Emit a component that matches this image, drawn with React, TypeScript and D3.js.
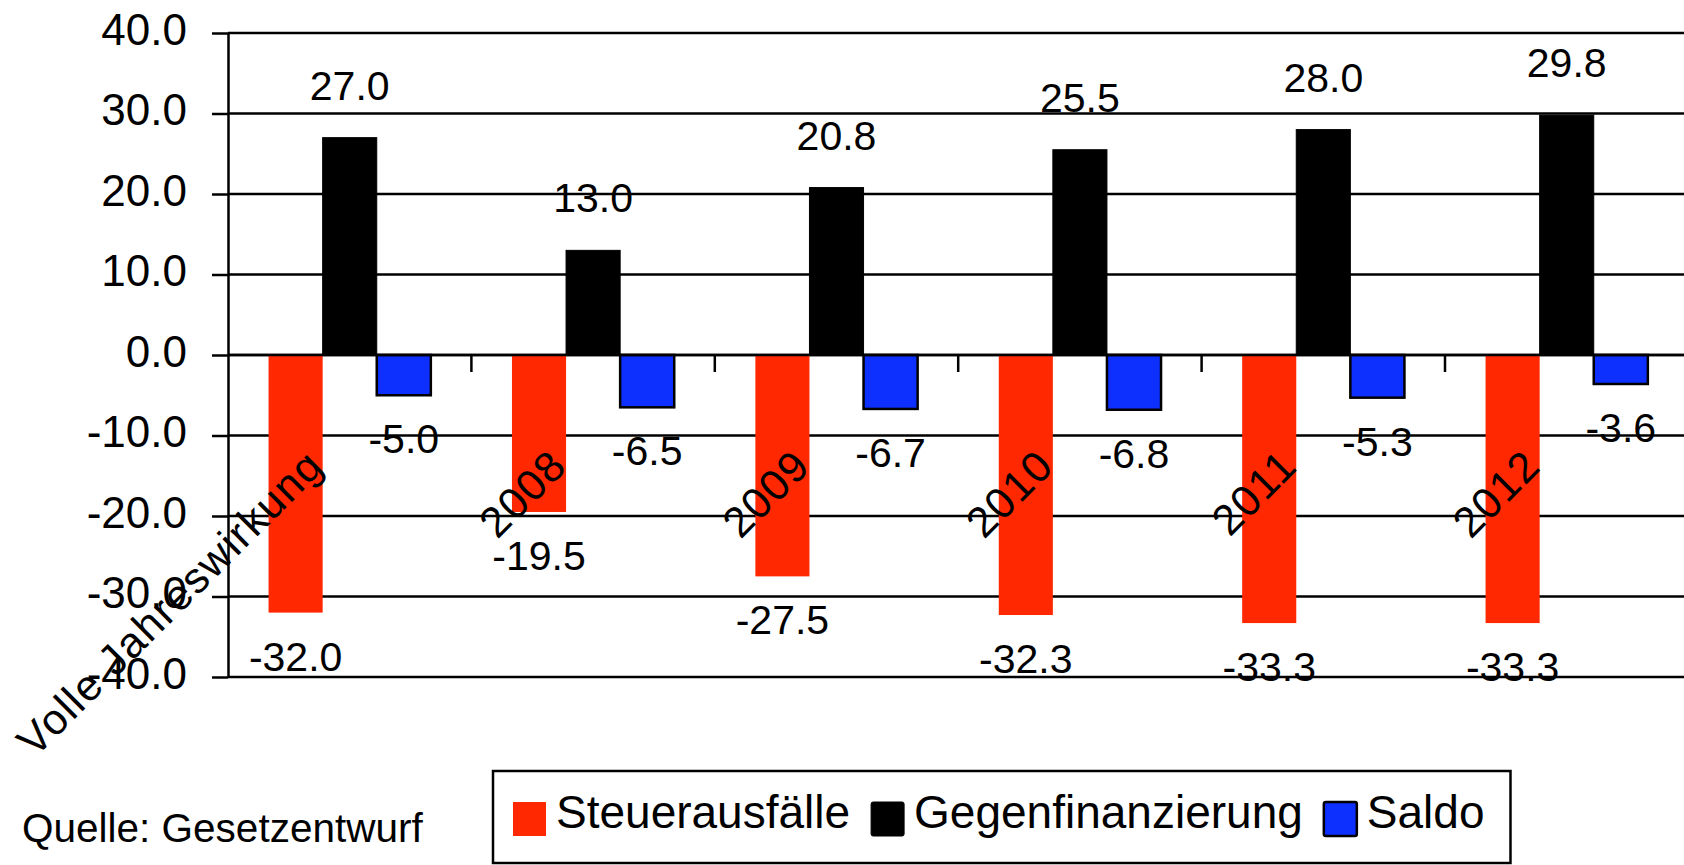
import React, { useEffect, useRef } from 'react';
import * as d3 from 'd3';

// Chart data
const categories = ['Volle Jahreswirkung', '2008', '2009', '2010', '2011', '2012'];
const seriesNames = ['Steuerausfälle', 'Gegenfinanzierung', 'Saldo'];
const steuerausfaelle = [-32.0, -19.5, -27.5, -32.3, -33.3, -33.3];
const gegenfinanzierung = [27.0, 13.0, 20.8, 25.5, 28.0, 29.8];
const saldo = [-5.0, -6.5, -6.7, -6.8, -5.3, -3.6];
const yTicks = [40, 30, 20, 10, 0, -10, -20, -30, -40];
const seriesColors = ['#FF2800', '#000000', '#0E30FF'];
const seriesStrokes = ['none', '#000000', '#000000'];
const sourceNote = 'Quelle: Gesetzentwurf';

const WIDTH = 1684;
const HEIGHT = 865;
const FONT = '"Liberation Sans", Arial, sans-serif';

const fmt = (v: number) => v.toFixed(1);

const App: React.FC = () => {
  const svgRef = useRef<SVGSVGElement>(null);

  useEffect(() => {
    if (!svgRef.current) return;
    const svg = d3.select(svgRef.current);
    svg.selectAll('*').remove();

    const plotLeft = 228;
    const bandWidth = 243.4;
    const seriesValues = [steuerausfaelle, gegenfinanzierung, saldo];

    const x = d3.scaleBand<string>()
      .domain(categories)
      .range([plotLeft, plotLeft + bandWidth * categories.length])
      .padding(0);

    const xs = d3.scaleBand<string>()
      .domain(seriesNames)
      .range([0, x.bandwidth()])
      .paddingInner(0)
      .paddingOuter(0.75);

    const y = d3.scaleLinear().domain([-40, 40]).range([677, 33]);

    // gridlines (behind bars)
    svg.append('g')
      .selectAll('line')
      .data(yTicks)
      .join('line')
      .attr('x1', plotLeft)
      .attr('x2', WIDTH)
      .attr('y1', d => y(d))
      .attr('y2', d => y(d))
      .attr('stroke', '#000')
      .attr('stroke-width', 2.5);

    // bars
    seriesNames.forEach((name, si) => {
      const g = svg.append('g');
      g.selectAll('rect')
        .data(seriesValues[si])
        .join('rect')
        .attr('x', (_, i) => (x(categories[i]) as number) + (xs(name) as number))
        .attr('y', d => y(Math.max(0, d)))
        .attr('width', xs.bandwidth())
        .attr('height', d => Math.abs(y(d) - y(0)))
        .attr('fill', seriesColors[si])
        .attr('stroke', seriesStrokes[si])
        .attr('stroke-width', si === 2 ? 2.5 : 1);
    });

    // zero line + category ticks
    svg.append('line')
      .attr('x1', plotLeft).attr('x2', WIDTH)
      .attr('y1', y(0)).attr('y2', y(0))
      .attr('stroke', '#000').attr('stroke-width', 2.5);

    svg.append('g')
      .selectAll('line')
      .data(categories.slice(1))
      .join('line')
      .attr('x1', d => x(d) as number)
      .attr('x2', d => x(d) as number)
      .attr('y1', y(0))
      .attr('y2', y(0) + 17)
      .attr('stroke', '#000')
      .attr('stroke-width', 2.5);

    // y axis
    const yAxis = d3.axisLeft(y)
      .tickValues(yTicks)
      .tickFormat(d => fmt(d as number))
      .tickSizeInner(16)
      .tickSizeOuter(0)
      .tickPadding(25);

    const axisG = svg.append('g')
      .attr('transform', `translate(${plotLeft},0)`)
      .call(yAxis);
    axisG.selectAll('path, line').attr('stroke', '#000').attr('stroke-width', 2.5);
    axisG.selectAll('text')
      .attr('fill', '#000')
      .attr('dy', '0.25em')
      .style('font-family', FONT)
      .style('font-size', '44px');

    // data labels
    seriesNames.forEach((name, si) => {
      svg.append('g')
        .selectAll('text')
        .data(seriesValues[si])
        .join('text')
        .attr('x', (_, i) => (x(categories[i]) as number) + (xs(name) as number) + xs.bandwidth() / 2)
        .attr('y', d => (d >= 0 ? y(d) - 38 : y(d) + 58))
        .attr('text-anchor', 'middle')
        .style('font-family', FONT)
        .style('font-size', '41px')
        .attr('fill', '#000')
        .text(d => fmt(d));
    });

    // category labels
    svg.append('g')
      .selectAll('text')
      .data(categories)
      .join('text')
      .attr('transform', d => `translate(${(x(d) as number) + x.bandwidth() / 2 - 24},468) rotate(-45)`)
      .attr('text-anchor', 'end')
      .style('font-family', FONT)
      .style('font-size', '43px')
      .style('letter-spacing', '1.5px')
      .attr('fill', '#000')
      .text(d => d);

    // source
    svg.append('text')
      .attr('x', 22)
      .attr('y', 842)
      .style('font-family', FONT)
      .style('font-size', '40.5px')
      .attr('fill', '#000')
      .text(sourceNote);

    // legend
    const legendG = svg.append('g');
    const legendBox = legendG.append('rect')
      .attr('y', 771)
      .attr('height', 92)
      .attr('fill', '#fff')
      .attr('stroke', '#000')
      .attr('stroke-width', 2.5);
    const legendLeft = 493;
    let cx = legendLeft + 20;
    seriesNames.forEach((name, si) => {
      legendG.append('rect')
        .attr('x', cx)
        .attr('y', 802)
        .attr('width', 33)
        .attr('height', 34)
        .attr('rx', si === 0 ? 0 : 2)
        .attr('fill', seriesColors[si])
        .attr('stroke', seriesStrokes[si])
        .attr('stroke-width', si === 2 ? 2.5 : 1);
      const t = legendG.append('text')
        .attr('x', cx + 43)
        .attr('y', 828)
        .style('font-family', FONT)
        .style('font-size', '46px')
        .attr('fill', '#000')
        .text(name);
      const w = (t.node() as SVGTextElement).getComputedTextLength();
      cx = cx + 43 + w + 21;
    });
    legendBox.attr('x', legendLeft).attr('width', cx - legendLeft + 5);
  }, []);

  return (
    <svg
      ref={svgRef}
      width={WIDTH}
      height={HEIGHT}
      style={{ position: 'absolute', left: 0, top: 0, background: '#fff' }}
    />
  );
};

export default App;
